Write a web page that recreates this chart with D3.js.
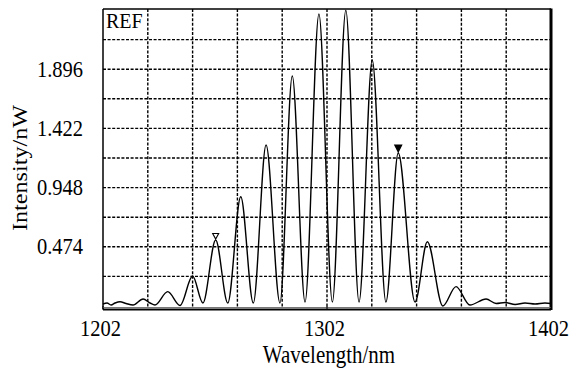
<!DOCTYPE html>
<html>
<head>
<meta charset="utf-8">
<script src="https://cdn.jsdelivr.net/npm/d3@7"></script>
<style>
  body { margin: 0; background: #fff; }
  text { font-family: "Liberation Serif", "Times New Roman", serif; fill: #000; }
</style>
</head>
<body>
<svg id="chart"></svg>
<script>
// spectrum: wavelength (nm) and intensity (nW)
const wavelength = [1202.0, 1203.8, 1205.6, 1207.4, 1209.6, 1212.3, 1215.4, 1219.9, 1223.0, 1225.2,
  1230.9, 1236.4, 1242.0, 1246.6, 1252.3, 1257.7, 1263.5, 1269.1, 1274.8, 1281.0,
  1286.5, 1292.2, 1298.4, 1304.4, 1310.4, 1316.3, 1322.2, 1328.3, 1333.8, 1341.3,
  1346.8, 1353.7, 1359.6, 1365.8, 1373.0, 1377.5, 1381.5, 1386.0, 1390.4, 1394.9,
  1399.3, 1402.0];
const intensity = [0.016, 0.024, 0.008, 0.024, 0.034, 0.020, 0.008, 0.056, 0.024, 0.008,
  0.115, 0.004, 0.240, 0.024, 0.528, 0.024, 0.875, 0.024, 1.289, 0.024,
  1.842, 0.032, 2.338, 0.032, 2.368, 0.032, 1.970, 0.032, 1.225, 0.032,
  0.515, 0.000, 0.155, 0.008, 0.056, 0.020, 0.028, 0.012, 0.024, 0.016,
  0.024, 0.020];

// peak markers
const markerWl = [1252.3, 1333.8];
const markerVal = [0.528, 1.225];
const markerFilled = [false, true];

const xTickLabels = [1202, 1302, 1402];
const yTickLabels = [0.474, 0.948, 1.422, 1.896];
const xGrid = [1222, 1242, 1262, 1282, 1302, 1322, 1342, 1362, 1382];
const yGrid = [0.237, 0.474, 0.711, 0.948, 1.185, 1.422, 1.659, 1.896, 2.133];

const width = 572, height = 370;
const plotLeft = 103, plotRight = 551, plotTop = 9, plotBottom = 306;
const stretch = 1.15;
const font = 20.5;

const svg = d3.select("#chart")
  .attr("width", width)
  .attr("height", height)
  .attr("viewBox", [0, 0, width, height]);

const x = d3.scaleLinear().domain([1202, 1402]).range([plotLeft, plotRight]);
const y = d3.scaleLinear().domain([0, 2.37]).range([plotBottom, plotTop + 1]);

// --- grid ---
svg.append("g").selectAll("line")
  .data(xGrid)
  .join("line")
  .attr("x1", d => x(d)).attr("x2", d => x(d))
  .attr("y1", plotTop).attr("y2", plotBottom + 2)
  .attr("stroke", "#000").attr("stroke-width", 1.4)
  .attr("stroke-dasharray", "3,1.6");

svg.append("g").selectAll("line")
  .data(yGrid)
  .join("line")
  .attr("x1", plotLeft).attr("x2", plotRight)
  .attr("y1", d => y(d)).attr("y2", d => y(d))
  .attr("stroke", "#000").attr("stroke-width", 1.4)
  .attr("stroke-dasharray", "3,1.6");

// --- curve ---
const pts = wavelength.map((w, i) => [w, intensity[i]]);
const line = d3.line()
  .x(d => x(d[0]))
  .y(d => y(d[1]))
  .curve(d3.curveMonotoneX);

svg.append("path")
  .datum(pts)
  .attr("d", line)
  .attr("fill", "none")
  .attr("stroke", "#000")
  .attr("stroke-width", 1.4)
  .attr("stroke-linejoin", "round");

// --- markers ---
markerWl.forEach((w, i) => {
  const mx = x(w), my = y(markerVal[i]);
  const s = markerFilled[i] ? 3.5 : 3;
  const h = markerFilled[i] ? 7 : 5.5;
  svg.append("path")
    .attr("d", `M${mx - s},${my - h - 1}L${mx + s},${my - h - 1}L${mx},${my - 1}Z`)
    .attr("fill", markerFilled[i] ? "#000" : "#fff")
    .attr("stroke", "#000")
    .attr("stroke-width", 1.1);
});

// --- frame ---
svg.append("line").attr("x1", plotLeft).attr("x2", plotLeft).attr("y1", plotTop).attr("y2", plotBottom + 3)
  .attr("stroke", "#000").attr("stroke-width", 1.5);
svg.append("line").attr("x1", plotLeft).attr("x2", plotRight).attr("y1", plotTop).attr("y2", plotTop)
  .attr("stroke", "#000").attr("stroke-width", 1.5);
svg.append("line").attr("x1", plotRight).attr("x2", plotRight).attr("y1", plotTop - 0.5).attr("y2", plotBottom + 4)
  .attr("stroke", "#000").attr("stroke-width", 3);
svg.append("line").attr("x1", plotLeft).attr("x2", plotRight).attr("y1", plotBottom + 1.5).attr("y2", plotBottom + 1.5)
  .attr("stroke", "#777").attr("stroke-width", 1);
svg.append("line").attr("x1", plotLeft).attr("x2", plotRight).attr("y1", plotBottom + 3.5).attr("y2", plotBottom + 3.5)
  .attr("stroke", "#000").attr("stroke-width", 2);

// bottom tick marks
svg.append("g").selectAll("line")
  .data(xTickLabels)
  .join("line")
  .attr("x1", d => x(d)).attr("x2", d => x(d))
  .attr("y1", plotBottom).attr("y2", plotBottom + 4)
  .attr("stroke", "#000").attr("stroke-width", 1);

// --- labels ---
svg.append("g").selectAll("text")
  .data(xTickLabels)
  .join("text")
  .attr("transform", d => `translate(${x(d) - 2.5},336) scale(1,${stretch})`)
  .attr("text-anchor", "middle")
  .attr("font-size", font)
  .text(d => d);

svg.append("g").selectAll("text")
  .data(yTickLabels)
  .join("text")
  .attr("transform", d => `translate(83,${y(d) + 7.5}) scale(1,${stretch})`)
  .attr("text-anchor", "end")
  .attr("font-size", font)
  .text(d => d3.format(".3f")(d));

svg.append("text")
  .attr("transform", `translate(329,363) scale(1,${stretch})`)
  .attr("text-anchor", "middle")
  .attr("font-size", 21)
  .text("Wavelength/nm");

svg.append("text")
  .attr("transform", `translate(27,168) rotate(-90) scale(${stretch},1)`)
  .attr("text-anchor", "middle")
  .attr("font-size", 21)
  .text("Intensity/nW");

svg.append("text")
  .attr("x", 106).attr("y", 28)
  .attr("font-size", 20)
  .text("REF");
</script>
</body>
</html>
